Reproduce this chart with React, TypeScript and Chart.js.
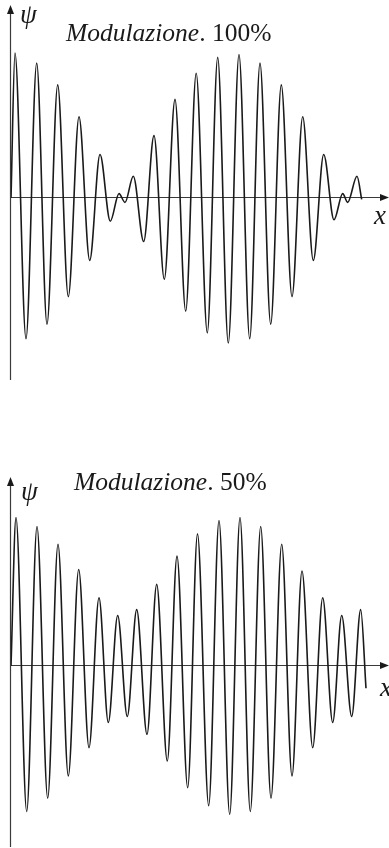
import React, { useEffect, useRef } from "react";
import { Chart, registerables } from "chart.js";

Chart.register(...registerables);

// x in arbitrary units (distance along x), psi normalised to max amplitude
const topX = [0.0, 0.4, 1.5, 2.57, 3.6, 4.67, 5.73, 6.8, 7.87, 8.9, 9.93, 10.8, 11.4, 12.23, 13.27, 14.3, 15.33, 16.4, 17.47, 18.52, 19.63, 20.67, 21.73, 22.8, 23.87, 24.9, 25.97, 27.03, 28.1, 29.17, 30.23, 31.27, 32.3, 33.17, 33.67, 34.6, 35.07];
const topPsi = [0.0, 1.0, -0.97, 0.93, -0.87, 0.78, -0.68, 0.56, -0.43, 0.3, -0.16, 0.03, -0.03, 0.15, -0.3, 0.43, -0.56, 0.68, -0.78, 0.86, -0.93, 0.97, -1.0, 0.99, -0.97, 0.93, -0.87, 0.78, -0.68, 0.56, -0.43, 0.3, -0.15, 0.03, -0.03, 0.15, -0.01];

const bottomX = [0.0, 0.5, 1.57, 2.6, 3.67, 4.7, 5.73, 6.77, 7.8, 8.8, 9.73, 10.67, 11.63, 12.57, 13.6, 14.57, 15.63, 16.6, 17.67, 18.65, 19.77, 20.8, 21.87, 22.9, 23.93, 24.97, 26.0, 27.07, 28.1, 29.1, 30.17, 31.17, 32.17, 33.07, 34.07, 34.97, 35.5];
const bottomPsi = [0.0, 1.0, -0.98, 0.94, -0.89, 0.82, -0.74, 0.65, -0.55, 0.46, -0.38, 0.34, -0.34, 0.38, -0.46, 0.55, -0.64, 0.74, -0.82, 0.89, -0.94, 0.98, -1.0, 1.0, -0.98, 0.94, -0.89, 0.82, -0.74, 0.64, -0.55, 0.46, -0.38, 0.34, -0.34, 0.38, -0.15];

const titles = [
  { italic: "Modulazione", rest: ". 100%" },
  { italic: "Modulazione", rest: ". 50%" },
];

const X_MAX = 37.8;

const axesPlugin = {
  id: "arrowAxes",
  beforeDatasetsDraw(chart: any) {
    const { ctx, chartArea, scales } = chart;
    const x0 = scales.x.getPixelForValue(0) - 0.5;
    const y0 = scales.y.getPixelForValue(0) - 0.5;
    const right = chartArea.right;
    const top = chartArea.top;
    ctx.save();
    ctx.strokeStyle = "#3a3a3a";
    ctx.fillStyle = "#1a1a1a";
    ctx.lineWidth = 1.2;
    ctx.beginPath();
    ctx.moveTo(x0, y0);
    ctx.lineTo(right - 6, y0);
    ctx.stroke();
    ctx.beginPath();
    ctx.moveTo(right, y0);
    ctx.lineTo(right - 9, y0 - 3.5);
    ctx.lineTo(right - 9, y0 + 3.5);
    ctx.closePath();
    ctx.fill();
    ctx.beginPath();
    ctx.moveTo(x0, chartArea.bottom);
    ctx.lineTo(x0, top + 6);
    ctx.stroke();
    ctx.beginPath();
    ctx.moveTo(x0, top);
    ctx.lineTo(x0 - 3.5, top + 9);
    ctx.lineTo(x0 + 3.5, top + 9);
    ctx.closePath();
    ctx.fill();
    ctx.restore();
  },
};

function WaveChart(props: { xs: number[]; ys: number[]; width: number; height: number; padTop: number; padBottom: number; yMin: number; yMax: number }) {
  const ref = useRef<HTMLCanvasElement | null>(null);
  useEffect(() => {
    if (!ref.current) return;
    const chart = new Chart(ref.current, {
      type: "line",
      data: {
        datasets: [
          {
            data: props.xs.map((x, i) => ({ x, y: props.ys[i] })),
            borderColor: "#1a1a1a",
            borderWidth: 1.6,
            pointRadius: 0,
            cubicInterpolationMode: "monotone",
            fill: false,
          },
        ],
      },
      options: {
        animation: false,
        responsive: false,
        devicePixelRatio: 1,
        layout: { padding: { left: 11, right: 0, top: props.padTop, bottom: props.padBottom } },
        plugins: { legend: { display: false }, tooltip: { enabled: false }, title: { display: false } },
        scales: {
          x: { type: "linear", min: 0, max: X_MAX, display: false },
          y: { type: "linear", min: props.yMin, max: props.yMax, display: false },
        },
      } as any,
      plugins: [axesPlugin],
    });
    return () => chart.destroy();
  }, []);
  return <canvas ref={ref} width={props.width} height={props.height} style={{ display: "block", width: props.width, height: props.height }} />;
}

const serif = "'Liberation Serif', 'DejaVu Serif', serif";

function Title(props: { left: number; baseline: number; t: { italic: string; rest: string } }) {
  return (
    <div style={{ position: "absolute", left: props.left, top: props.baseline - 21.5, fontFamily: serif, fontSize: 25.5, lineHeight: "25.5px", color: "#1a1a1a", whiteSpace: "nowrap" }}>
      <span style={{ fontStyle: "italic" }}>{props.t.italic}</span>
      <span>{props.t.rest}</span>
    </div>
  );
}

function Label(props: { left: number; baseline: number; text: string; size: number }) {
  return (
    <div style={{ position: "absolute", left: props.left, top: props.baseline - props.size * 0.84, fontFamily: serif, fontStyle: "italic", fontSize: props.size, lineHeight: props.size + "px", color: "#1a1a1a", whiteSpace: "nowrap" }}>
      {props.text}
    </div>
  );
}

export default function App() {
  return (
    <div style={{ position: "fixed", left: 0, top: 0, width: 389, height: 848, background: "#fff", overflow: "hidden" }}>
      <div style={{ position: "absolute", left: 0, top: 0 }}>
        <WaveChart xs={topX} ys={topPsi} width={389} height={400} padTop={5} padBottom={20} yMin={-1.255} yMax={1.331} />
      </div>
      <div style={{ position: "absolute", left: 0, top: 424 }}>
        <WaveChart xs={bottomX} ys={bottomPsi} width={389} height={424} padTop={53} padBottom={1} yMin={-1.219} yMax={1.273} />
      </div>
      <Title left={66} baseline={41} t={titles[0]} />
      <Title left={74} baseline={490} t={titles[1]} />
      <Label left={20} baseline={24} text="ψ" size={27} />
      <Label left={21} baseline={501} text="ψ" size={27} />
      <Label left={374} baseline={225} text="x" size={27} />
      <Label left={380} baseline={697} text="x" size={27} />
    </div>
  );
}
